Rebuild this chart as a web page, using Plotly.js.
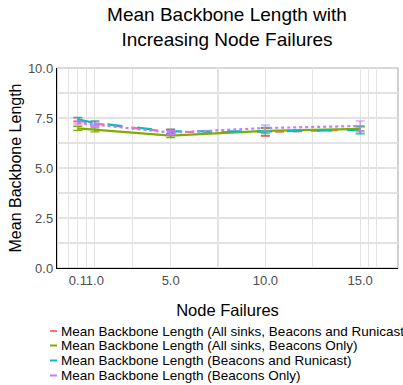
<!DOCTYPE html>
<html>
<head>
<meta charset="utf-8">
<script src="https://cdn.plot.ly/plotly-3.0.1.min.js"></script>
<style>html,body{margin:0;padding:0;background:#fff;}#chart{width:403px;height:385px;}</style>
</head>
<body>
<div id="chart"></div>
<script>
const xValues = [0.1, 1, 5, 10, 15];
const seriesNames = [
  "Mean Backbone Length (All sinks, Beacons and Runicast)",
  "Mean Backbone Length (All sinks, Beacons Only)",
  "Mean Backbone Length (Beacons and Runicast)",
  "Mean Backbone Length (Beacons Only)"
];
const redValues = [7.38, 7.22, 6.80, 6.80, 6.92];
const redErrors = [0.13, 0.12, 0.15, 0.22, 0.18];
const greenValues = [6.98, 6.91, 6.62, 6.86, 6.96];
const greenErrors = [0.10, 0.10, 0.10, 0.12, 0.10];
const cyanValues = [7.43, 7.25, 6.83, 6.83, 6.90];
const cyanErrors = [0.10, 0.10, 0.10, 0.20, 0.20];
const purpleValues = [7.25, 7.17, 6.77, 7.00, 7.10];
const purpleErrors = [0.10, 0.08, 0.10, 0.15, 0.25];
const xTickVals = [0.1, 1, 5, 10, 15];
const xTickText = ["0.1", "1.0", "5.0", "10.0", "15.0"];
const xMinorVals = [-0.4, 0.55, 3, 7.5, 12.5, 15.45, 15.87];
const yTickVals = [0, 2.5, 5, 7.5, 10];
const yTickText = ["0.0", "2.5", "5.0", "7.5", "10.0"];
const yMinorVals = [1.25, 3.75, 6.25, 8.75];

const colors = ["#F8766D", "#7CAE00", "#00BFC4", "#C77CFF"];
const dashes = ["dash", "solid", "longdash", "dot"];
const values = [redValues, greenValues, cyanValues, purpleValues];
const errors = [redErrors, greenErrors, cyanErrors, purpleErrors];

const traces = values.map((v, i) => ({
  x: xValues, y: v, type: "scatter", mode: "lines",
  name: seriesNames[i], showlegend: false,
  line: {color: colors[i], width: 2.2, dash: dashes[i]},
  error_y: {type: "data", array: errors[i], visible: true, color: colors[i], thickness: 1.2, width: 4.5}
}));

// manual legend (compact, like the reference)
const H = 385, W = 403;
const legendRowsY = [331, 345.5, 360.5, 375.5];
const annotations = [];
const shapes = [{type: "rect", xref: "paper", yref: "paper", x0: 0, x1: 1, y0: 0, y1: 1, line: {color: "#b3b3b3", width: 1.2}, layer: "below"}];
seriesNames.forEach((name, i) => {
  const yp = (H - legendRowsY[i] - 117) / (H - 185);
  annotations.push({text: name, xref: "paper", yref: "paper",
    x: (59 - 57) / (W - 62), y: yp,
    xanchor: "left", yanchor: "middle", showarrow: false, align: "left",
    font: {size: 13.5, color: "#000"}});
  shapes.push({type: "line", xref: "paper", yref: "paper",
    x0: (50 - 57) / (W - 62), x1: 0, y0: yp, y1: yp,
    line: {color: colors[i], width: 2}});
});

const layout = {
  width: W, height: H,
  margin: {l: 57, r: 5, t: 68, b: 117, autoexpand: false},
  paper_bgcolor: "#fff", plot_bgcolor: "#fff",
  font: {family: "Liberation Sans, Arial, sans-serif", color: "#000"},
  title: {text: "Mean Backbone Length with<br>Increasing Node Failures", font: {size: 19, color: "#000"},
    xref: "container", yref: "container", x: 227 / W, xanchor: "center", y: 1 - 21 / H, yanchor: "top"},
  xaxis: {
    range: [-1, 17], tickmode: "array", tickvals: xTickVals, ticktext: xTickText, tickangle: 0,
    showgrid: true, gridcolor: "#e3e3e3", gridwidth: 1.2,
    minor: {tickmode: "array", tickvals: xMinorVals, showgrid: true, gridcolor: "#e3e3e3", gridwidth: 1.2, ticks: ""},
    showline: true, linecolor: "#000", linewidth: 1.2, zeroline: false, ticks: "",
    tickfont: {size: 13, color: "#4d4d4d"},
    title: {text: "Node Failures", font: {size: 16.5, color: "#000"}, standoff: 17}
  },
  yaxis: {
    range: [0, 10], tickmode: "array", tickvals: yTickVals, ticktext: yTickText,
    showgrid: true, gridcolor: "#e3e3e3", gridwidth: 1.2,
    minor: {tickmode: "array", tickvals: yMinorVals, showgrid: true, gridcolor: "#e3e3e3", gridwidth: 1.2, ticks: ""},
    showline: true, linecolor: "#000", linewidth: 1.2, zeroline: false, ticks: "",
    tickfont: {size: 13, color: "#4d4d4d"},
    title: {text: "Mean Backbone Length", font: {size: 16, color: "#000"}, standoff: 2}
  },
  shapes: shapes,
  annotations: annotations,
  showlegend: false
};

Plotly.newPlot("chart", traces, layout, {displayModeBar: false, staticPlot: true});
</script>
</body>
</html>
